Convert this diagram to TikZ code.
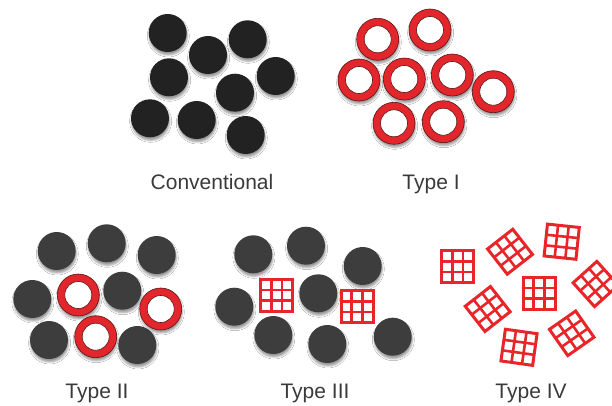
\documentclass[tikz,border=0pt]{standalone}
\usepackage{fontspec}
\setmainfont{Liberation Sans}
\usetikzlibrary{shadows.blur}
\definecolor{coreblack}{HTML}{222222}
\definecolor{coregray}{HTML}{3D3D3D}
\definecolor{shellred}{HTML}{E3262B}
\definecolor{shelledge}{HTML}{5A1414}
\definecolor{meshred}{HTML}{E8262A}
\definecolor{labelgray}{HTML}{3A3A3A}
\tikzset{
  x=1pt,y=-1pt,
  softshadow/.style={blur shadow={shadow xshift=0.6pt,shadow yshift=-3pt,
    shadow blur radius=2pt,shadow opacity=40}},
  darkcore/.style={fill=coreblack,softshadow},
  graycore/.style={fill=coregray,softshadow},
  caption/.style={font=\fontsize{21}{24}\selectfont,text=labelgray,anchor=base},
  pics/shellring/.style={code={
    \fill[shellred,softshadow] (0,0) circle[radius=21];
    \fill[white] (0,0) circle[radius=13.5];
    \draw[shelledge,line width=0.6pt] (0,0) circle[radius=21]
      (0,0) circle[radius=13.5];
  }},
  pics/meshbox/.style={code={
    \draw[meshred,line width=3pt] (-16,-16) rectangle (16,16);
    \foreach \t in {-5.33,5.33} {
      \draw[meshred,line width=2.6pt] (\t,-16) -- (\t,16);
      \draw[meshred,line width=2.6pt] (-16,\t) -- (16,\t);
    }
  }},
}
\begin{document}
\begin{tikzpicture}
  \useasboundingbox[fill=white] (0,0) rectangle (612,406);
  % conventional
  \foreach \cx/\cy in {167.7/33,208/55,247.7/39.3,169/77.3,275.7/76,
    235/92.7,150/118.3,196.7/120,245.7/135}
    \fill[darkcore] (\cx,\cy) circle[radius=19];
  % type I
  \foreach \cx/\cy in {377.7/39.3,430/30,359/80,404.3/79,452.3/75,
    493.3/91.7,394/123.3,443.3/121.7}
    \pic at (\cx,\cy) {shellring};
  % type II
  \foreach \cx/\cy in {56.7/251,106.7/243.3,156.7/255,32.3/299,
    122.3/290.7,49/340,137.3/345}
    \fill[graycore] (\cx,\cy) circle[radius=19];
  \foreach \cx/\cy in {78.3/295,160.7/309,95.7/336.7}
    \pic at (\cx,\cy) {shellring};
  % type III
  \foreach \cx/\cy in {253.3/254.3,306/245.7,362.7/266,234.3/306.7,
    318.3/293.3,273.3/335,327.3/344,392.7/336.7}
    \fill[graycore] (\cx,\cy) circle[radius=19];
  \foreach \cx/\cy in {276.7/295.3,357/306.7}
    \pic at (\cx,\cy) {meshbox};
  % type IV
  \foreach \cx/\cy/\ang in {457.7/266.7/0,510/251.7/38,561.7/241.7/-6,
    595.7/284/42,539/293.3/0,487.7/309/38,519/347.3/-8,571.7/333.3/35}
    \pic[rotate=\ang] at (\cx,\cy) {meshbox};
  % labels
  \node[caption] (conv) at (212,189) {Conventional};
  \node[caption] (typeI) at (431,189) {Type I};
  \node[caption] (typeII) at (97,398) {Type II};
  \node[caption] (typeIII) at (315,398) {Type III};
  \node[caption] (typeIV) at (531,398) {Type IV};
\end{tikzpicture}
\end{document}
